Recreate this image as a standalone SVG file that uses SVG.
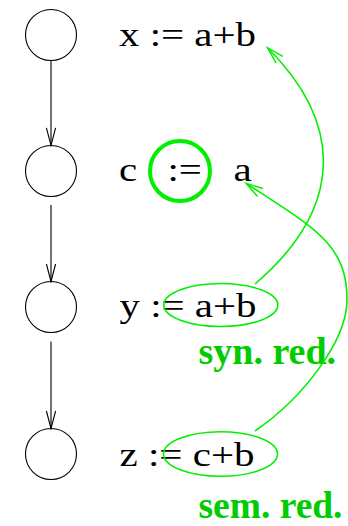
<svg xmlns="http://www.w3.org/2000/svg" width="348" height="526" viewBox="0 0 348 526">
<style>
.node{fill:none;stroke:#000;stroke-width:1.1}
.flow{stroke:#000;stroke-width:1.1;fill:none}
.st{font-family:"Liberation Serif","Times New Roman",serif;font-size:33px;fill:#000}
.lbl{font-family:"Liberation Serif","Times New Roman",serif;font-weight:bold;font-size:38px;fill:#00cc00}
.hl{fill:none;stroke:#00f000;stroke-width:1.6}
.ref{fill:none;stroke:#00f000;stroke-width:1.6}
</style>
<defs>
<marker id="arrB" markerUnits="userSpaceOnUse" markerWidth="30" markerHeight="20" viewBox="-20 -10 30 20" refX="0" refY="0" orient="auto" overflow="visible">
<path d="M-17.5,-4.6 L0,0 L-17.5,4.6" fill="none" stroke="#000" stroke-width="1.1"/>
</marker>
<marker id="arrG" markerUnits="userSpaceOnUse" markerWidth="30" markerHeight="20" viewBox="-20 -10 30 20" refX="0" refY="0" orient="auto" overflow="visible">
<path d="M-17,-4.8 L0,0 L-17,4.8" fill="none" stroke="#00f000" stroke-width="1.4"/>
</marker>
</defs>

<g id="n1"><circle class="node" cx="51" cy="35" r="25.5"/></g>
<g id="n2"><circle class="node" cx="51" cy="171" r="25.5"/></g>
<g id="n3"><circle class="node" cx="51" cy="307" r="25.5"/></g>
<g id="n4"><circle class="node" cx="51" cy="454" r="25.5"/></g>

<g id="s1"><text class="st" x="119" y="45.5" textLength="137" lengthAdjust="spacingAndGlyphs">x := a+b</text></g>
<g id="s2">
<text class="st" x="119" y="181" textLength="18.2" lengthAdjust="spacingAndGlyphs">c</text>
<text class="st" x="167.5" y="181" textLength="34.4" lengthAdjust="spacingAndGlyphs">:=</text>
<text class="st" x="233.5" y="181" textLength="18.2" lengthAdjust="spacingAndGlyphs">a</text>
<circle cx="180" cy="171" r="30" fill="none" stroke="#00f000" stroke-width="4"/>
</g>
<g id="s3">
<text class="st" x="119.5" y="317" textLength="137" lengthAdjust="spacingAndGlyphs">y := a+b</text>
<ellipse class="hl" cx="220.8" cy="305" rx="57" ry="21.5"/>
</g>
<g id="s4">
<text class="st" x="119.5" y="466" textLength="135" lengthAdjust="spacingAndGlyphs">z := c+b</text>
<ellipse class="hl" cx="220.5" cy="454" rx="57" ry="22.3"/>
</g>

<g id="labels">
<text class="lbl" x="198.5" y="363.5">syn. red.</text>
<text class="lbl" x="198.5" y="517.5" textLength="144" lengthAdjust="spacingAndGlyphs">sem. red.</text>
</g>

<g id="connectors">
<line class="flow" x1="51" y1="60.5" x2="51" y2="145.3" marker-end="url(#arrB)"/>
<line class="flow" x1="51" y1="205" x2="51" y2="281.5" marker-end="url(#arrB)"/>
<line class="flow" x1="51" y1="341.5" x2="51" y2="428.5" marker-end="url(#arrB)"/>
<path class="ref" d="M255,284 C345,207 343,123 267.5,47.7" marker-end="url(#arrG)"/>
<path class="ref" d="M255,431 C304,397.4 347,340 347,300 C347,245 316.6,229 246,183.3" marker-end="url(#arrG)"/>
</g>
</svg>
